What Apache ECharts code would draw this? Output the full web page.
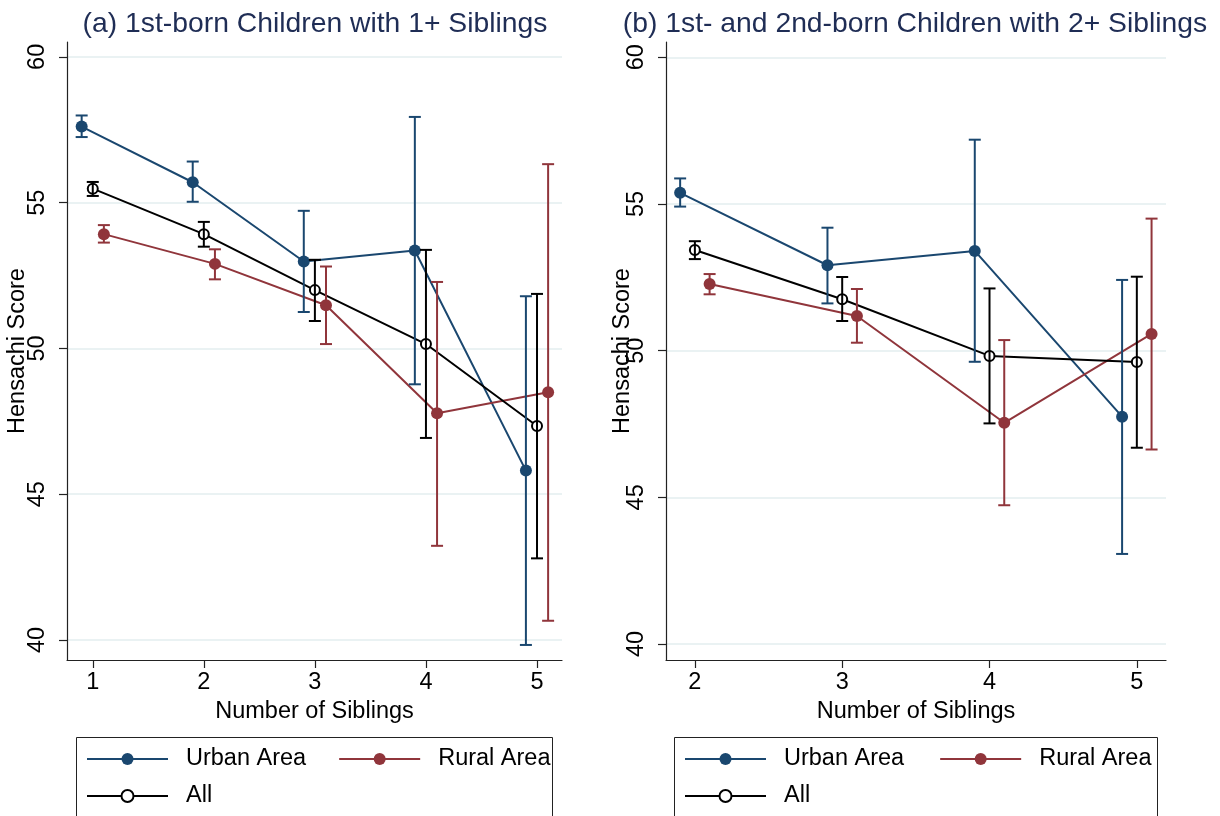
<!DOCTYPE html>
<html>
<head>
<meta charset="utf-8">
<script src="https://cdn.jsdelivr.net/npm/echarts@6/dist/echarts.min.js"></script>
<style>
  html, body { margin: 0; padding: 0; background: #fff; }
  #chart { width: 1220px; height: 816px; }
</style>
</head>
<body>
<div id="chart"></div>
<script>
// panel (a): 1st-born children with 1+ siblings
const sibsA = [1, 2, 3, 4, 5];
const urbanA = [57.61, 55.7, 52.98, 53.36, 45.81];
const urbanLoA = [57.25, 55.03, 51.25, 48.77, 39.83];
const urbanHiA = [57.99, 56.41, 54.72, 57.94, 51.79];
const ruralA = [53.92, 52.9, 51.48, 47.78, 48.5];
const ruralLoA = [53.63, 52.37, 50.15, 43.23, 40.66];
const ruralHiA = [54.23, 53.4, 52.81, 52.28, 56.32];
const allA = [55.48, 53.92, 52.0, 50.15, 47.34];
const allLoA = [55.23, 53.49, 50.94, 46.93, 42.8];
const allHiA = [55.71, 54.34, 53.04, 53.38, 51.87];

// panel (b): 1st- and 2nd-born children with 2+ siblings
const sibsB = [2, 3, 4, 5];
const urbanB = [55.38, 52.91, 53.4, 47.75];
const urbanLoB = [54.91, 51.61, 49.62, 43.07];
const urbanHiB = [55.87, 54.19, 57.19, 52.41];
const ruralB = [52.27, 51.18, 47.54, 50.57];
const ruralLoB = [51.92, 50.27, 44.73, 46.63];
const ruralHiB = [52.61, 52.1, 50.36, 54.5];
const allB = [53.43, 51.75, 49.82, 49.61];
const allLoB = [53.12, 51.01, 47.52, 46.69];
const allHiB = [53.73, 52.51, 52.12, 52.52];

const yTicks = [40, 45, 50, 55, 60];
const titles = [
  "(a) 1st-born Children with 1+ Siblings",
  "(b) 1st- and 2nd-born Children with 2+ Siblings",
];

const URBAN = "#1a476f";
const RURAL = "#90353b";
const ALL = "#000000";
const FONT = "Liberation Sans, Arial, sans-serif";
const DODGE = 0.1;

const chart = echarts.init(document.getElementById("chart"));

function pts(xs, ys, shift) {
  return xs.map((x, i) => [x + shift, ys[i]]);
}

function bars(xs, lo, hi, shift) {
  return xs.map((x, i) => [x + shift, lo[i], hi[i]]);
}

function renderErr(params, api) {
  const x = api.value(0);
  const top = api.coord([x, api.value(2)]);
  const bot = api.coord([x, api.value(1)]);
  const w = 6;
  const style = { stroke: api.visual("color"), lineWidth: 2, fill: null };
  return {
    type: "group",
    children: [
      { type: "line", shape: { x1: top[0], y1: top[1], x2: bot[0], y2: bot[1] }, style },
      { type: "line", shape: { x1: top[0] - w, y1: top[1], x2: top[0] + w, y2: top[1] }, style },
      { type: "line", shape: { x1: bot[0] - w, y1: bot[1], x2: bot[0] + w, y2: bot[1] }, style },
    ],
  };
}

function lineSeries(name, color, data, idx, hollow) {
  return {
    name: name,
    type: "line",
    xAxisIndex: idx,
    yAxisIndex: idx,
    data: data,
    symbol: hollow ? "emptyCircle" : "circle",
    symbolSize: hollow ? 10 : 12,
    lineStyle: { color: color, width: 2 },
    itemStyle: { color: color, borderWidth: hollow ? 2 : 0 },
    emphasis: { disabled: true },
    z: 3,
  };
}

function errSeries(name, color, data, idx) {
  return {
    name: name + " CI",
    type: "custom",
    xAxisIndex: idx,
    yAxisIndex: idx,
    data: data,
    renderItem: renderErr,
    itemStyle: { color: color },
    z: 4,
  };
}

const axisText = { color: "#000", fontSize: 23.5, fontFamily: FONT };

function xAxis(idx, min, max, ticks) {
  return {
    type: "value",
    gridIndex: idx,
    min: min,
    max: max,
    name: "Number of Siblings",
    nameLocation: "middle",
    nameGap: 40,
    nameMoveOverlap: false,
    nameTextStyle: axisText,
    axisLine: { onZero: false, lineStyle: { color: "#222", width: 1.2 } },
    axisTick: { length: 8, customValues: ticks, lineStyle: { color: "#222", width: 1.2 } },
    axisLabel: Object.assign({ customValues: ticks, margin: 11 }, axisText),
    splitLine: { show: false },
  };
}

function yAxis(idx, min, max, nameGap) {
  return {
    type: "value",
    gridIndex: idx,
    min: min,
    max: max,
    name: "Hensachi Score",
    nameLocation: "middle",
    nameGap: nameGap,
    nameMoveOverlap: false,
    nameTextStyle: axisText,
    axisLine: { onZero: false, lineStyle: { color: "#222", width: 1.2 } },
    axisTick: { length: 8, customValues: yTicks, lineStyle: { color: "#222", width: 1.2 } },
    axisLabel: Object.assign({ customValues: yTicks, rotate: 90, margin: 17 }, axisText),
    splitLine: { show: true, lineStyle: { color: "#eaf2f3", width: 2 } },
  };
}

function legends(left, gap) {
  const common = {
    orient: "horizontal",
    selectedMode: false,
    itemWidth: 81,
    itemHeight: 15,
    itemGap: gap,
    padding: 0,
    textStyle: { color: "#000", fontSize: 23.5, fontFamily: FONT, lineHeight: 26, padding: [0, 0, 0, 13] },
  };
  return [
    Object.assign({}, common, { left: left, top: 746, data: ["Urban Area", "Rural Area"] }),
    Object.assign({}, common, { left: left, top: 783, data: ["All"] }),
  ];
}

const titleText = { color: "#1f2d55", fontSize: 28.3, fontWeight: "normal", fontFamily: FONT };

const option = {
  backgroundColor: "#fff",
  animation: false,
  title: [
    { text: titles[0], left: 310, top: 5, textAlign: "center", textStyle: titleText },
    { text: titles[1], left: 910, top: 5, textAlign: "center", textStyle: titleText },
  ],
  legend: legends(86, 32).concat(legends(684, 35)),
  grid: [
    { left: 67, top: 42, width: 495, height: 618 },
    { left: 666, top: 42, width: 500, height: 618 },
  ],
  xAxis: [xAxis(0, 0.768, 5.225, sibsA), xAxis(1, 1.804, 5.198, sibsB)],
  yAxis: [yAxis(0, 39.314, 60.51, 37), yAxis(1, 39.455, 60.52, 31)],
  graphic: [
    { type: "rect", shape: { x: 76.5, y: 737.5, width: 476, height: 100 },
      style: { fill: null, stroke: "#222", lineWidth: 1 }, silent: true },
    { type: "rect", shape: { x: 674.5, y: 737.5, width: 483, height: 100 },
      style: { fill: null, stroke: "#222", lineWidth: 1 }, silent: true },
  ],
  series: [
    lineSeries("Urban Area", URBAN, pts(sibsA, urbanA, -DODGE), 0, false),
    lineSeries("Rural Area", RURAL, pts(sibsA, ruralA, DODGE), 0, false),
    lineSeries("All", ALL, pts(sibsA, allA, 0), 0, true),
    errSeries("Urban Area", URBAN, bars(sibsA, urbanLoA, urbanHiA, -DODGE), 0),
    errSeries("Rural Area", RURAL, bars(sibsA, ruralLoA, ruralHiA, DODGE), 0),
    errSeries("All", ALL, bars(sibsA, allLoA, allHiA, 0), 0),
    lineSeries("Urban Area", URBAN, pts(sibsB, urbanB, -DODGE), 1, false),
    lineSeries("Rural Area", RURAL, pts(sibsB, ruralB, DODGE), 1, false),
    lineSeries("All", ALL, pts(sibsB, allB, 0), 1, true),
    errSeries("Urban Area", URBAN, bars(sibsB, urbanLoB, urbanHiB, -DODGE), 1),
    errSeries("Rural Area", RURAL, bars(sibsB, ruralLoB, ruralHiB, DODGE), 1),
    errSeries("All", ALL, bars(sibsB, allLoB, allHiB, 0), 1),
  ],
};

chart.setOption(option);
</script>
</body>
</html>
